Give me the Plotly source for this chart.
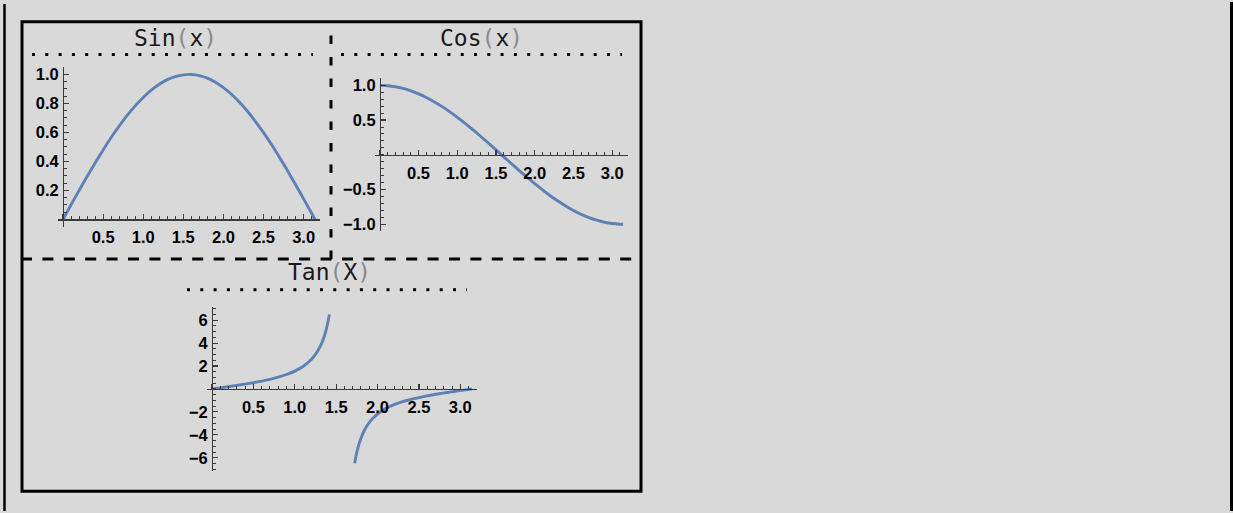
import plotly.graph_objects as go

W, H = 1233, 513
BG = "#d9d9d9"
CURVE = "#5e81b5"

# ---------------- data ----------------
sin_x = [0.0, 0.1, 0.2, 0.3, 0.4, 0.5, 0.6, 0.7, 0.8, 0.9, 1.0, 1.1, 1.2, 1.3, 1.4, 1.5, 1.6,
         1.7, 1.8, 1.9, 2.0, 2.1, 2.2, 2.3, 2.4, 2.5, 2.6, 2.7, 2.8, 2.9, 3.0, 3.1, 3.1416]
sin_y = [0.000, 0.100, 0.199, 0.296, 0.389, 0.479, 0.565, 0.644, 0.717, 0.783, 0.841, 0.891,
         0.932, 0.964, 0.985, 0.997, 1.000, 0.992, 0.974, 0.946, 0.909, 0.863, 0.808, 0.746,
         0.675, 0.598, 0.516, 0.427, 0.335, 0.239, 0.141, 0.042, 0.000]

cos_x = [0.0, 0.1, 0.2, 0.3, 0.4, 0.5, 0.6, 0.7, 0.8, 0.9, 1.0, 1.1, 1.2, 1.3, 1.4, 1.5, 1.6,
         1.7, 1.8, 1.9, 2.0, 2.1, 2.2, 2.3, 2.4, 2.5, 2.6, 2.7, 2.8, 2.9, 3.0, 3.1, 3.1416]
cos_y = [1.000, 0.995, 0.980, 0.955, 0.921, 0.878, 0.825, 0.765, 0.697, 0.622, 0.540, 0.454,
         0.362, 0.267, 0.170, 0.071, -0.029, -0.129, -0.227, -0.323, -0.416, -0.505, -0.589,
         -0.666, -0.737, -0.801, -0.857, -0.904, -0.942, -0.971, -0.990, -0.999, -1.000]

tan_x1 = [0.0, 0.1, 0.2, 0.3, 0.4, 0.5, 0.6, 0.7, 0.8, 0.9, 1.0, 1.1, 1.2, 1.25, 1.3, 1.35,
          1.38, 1.4, 1.418]
tan_y1 = [0.000, 0.100, 0.203, 0.309, 0.423, 0.546, 0.684, 0.842, 1.030, 1.260, 1.557, 1.965,
          2.572, 3.010, 3.602, 4.455, 5.180, 5.798, 6.490]
tan_x2 = [1.7236, 1.7416, 1.7616, 1.7916, 1.8416, 1.8916, 1.9416, 2.0416, 2.1416, 2.2416,
          2.3416, 2.4416, 2.5416, 2.6416, 2.7416, 2.8416, 2.9416, 3.0416, 3.1416]
tan_y2 = [-6.490, -5.798, -5.180, -4.455, -3.602, -3.010, -2.572, -1.965, -1.557, -1.260,
          -1.030, -0.842, -0.684, -0.546, -0.423, -0.309, -0.203, -0.100, 0.000]

x_ticks = [0.5, 1.0, 1.5, 2.0, 2.5, 3.0]
x_ticklabels = ["0.5", "1.0", "1.5", "2.0", "2.5", "3.0"]
sin_yticks = [0.2, 0.4, 0.6, 0.8, 1.0]
sin_yticklabels = ["0.2", "0.4", "0.6", "0.8", "1.0"]
cos_yticks = [-1.0, -0.5, 0.5, 1.0]
cos_yticklabels = ["\u22121.0", "\u22120.5", "0.5", "1.0"]
tan_yticks = [-6, -4, -2, 2, 4, 6]
tan_yticklabels = ["\u22126", "\u22124", "\u22122", "2", "4", "6"]

titles = ["Sin", "Cos", "Tan"]
title_args = ["x", "x", "X"]

# ---------------- layout helpers ----------------
def px_x(p):
    return p / W

def px_y(p):
    return 1 - p / H

TICKFONT = dict(family="Liberation Sans, Arial", size=16.5, color="black", weight="bold")
AXCOL = "#3a3a3a"

# panel pixel boxes (left, right, top, bottom) and padded ranges
panels = [
    dict(box=(58, 320, 65.7, 226.3), xr=[-0.0628, 3.2044], yr=[-0.05, 1.05],
         yt=sin_yticks, ytl=sin_yticklabels, ymin=0.05),
    dict(box=(375, 628, 77, 231), xr=[-0.0628, 3.2044], yr=[-1.1, 1.1],
         yt=cos_yticks, ytl=cos_yticklabels, ymin=0.1),
    dict(box=(206.8, 477.2, 307.4, 472.6), xr=[-0.0628, 3.2044], yr=[-7.15, 7.15],
         yt=tan_yticks, ytl=tan_yticklabels, ymin=0.5),
]

fig = go.Figure()
line_style = dict(color=CURVE, width=2.9, shape="spline", smoothing=0.6)
fig.add_trace(go.Scatter(x=sin_x, y=sin_y, mode="lines", line=line_style,
                         xaxis="x", yaxis="y", showlegend=False, hoverinfo="skip"))
fig.add_trace(go.Scatter(x=cos_x, y=cos_y, mode="lines", line=line_style,
                         xaxis="x2", yaxis="y2", showlegend=False, hoverinfo="skip"))
fig.add_trace(go.Scatter(x=tan_x1, y=tan_y1, mode="lines", line=line_style,
                         xaxis="x3", yaxis="y3", showlegend=False, hoverinfo="skip"))
fig.add_trace(go.Scatter(x=tan_x2, y=tan_y2, mode="lines", line=line_style,
                         xaxis="x3", yaxis="y3", showlegend=False, hoverinfo="skip"))

layout = dict(
    width=W, height=H, margin=dict(l=0, r=0, t=0, b=0),
    paper_bgcolor=BG, plot_bgcolor="rgba(0,0,0,0)", showlegend=False, hovermode=False,
)

for i, p in enumerate(panels):
    l, r, t, b = p["box"]
    xd = [px_x(l), px_x(r)]
    yd = [px_y(b), px_y(t)]
    # axis positions where the other coordinate is zero
    xpos = yd[0] + (0 - p["yr"][0]) / (p["yr"][1] - p["yr"][0]) * (yd[1] - yd[0])
    ypos = xd[0] + (0 - p["xr"][0]) / (p["xr"][1] - p["xr"][0]) * (xd[1] - xd[0])
    sfx = "" if i == 0 else str(i + 1)
    layout["xaxis" + sfx] = dict(
        domain=xd, range=p["xr"], anchor="free", position=xpos, showgrid=False, zeroline=False,
        showline=True, linecolor=AXCOL, linewidth=1.3, ticks="inside", ticklen=5, tickwidth=1.2,
        tickcolor=AXCOL, tickvals=[0] + x_ticks, ticktext=[""] + x_ticklabels, tickfont=TICKFONT,
        ticklabelstandoff=3,
        minor=dict(tickmode="linear", tick0=0, dtick=0.1, ticks="inside", ticklen=3, tickwidth=1,
                   tickcolor=AXCOL, showgrid=False),
        fixedrange=True,
    )
    layout["yaxis" + sfx] = dict(
        domain=yd, range=p["yr"], anchor="free", position=ypos, showgrid=False, zeroline=False,
        showline=True, linecolor=AXCOL, linewidth=1.3, ticks="inside", ticklen=5, tickwidth=1.2,
        tickcolor=AXCOL, tickvals=p["yt"], ticktext=p["ytl"], tickfont=TICKFONT,
        ticklabelstandoff=1,
        minor=dict(tickmode="linear", tick0=0, dtick=p["ymin"], ticks="inside", ticklen=3, tickwidth=1,
                   tickcolor=AXCOL, showgrid=False),
        fixedrange=True,
    )

fig.update_layout(**layout)

# ---------------- decorations ----------------
shapes = []
def pline(x0, y0, x1, y1, width, dash="solid", color="black"):
    shapes.append(dict(type="line", xref="paper", yref="paper",
                       x0=px_x(x0), y0=px_y(y0), x1=px_x(x1), y1=px_y(y1),
                       line=dict(color=color, width=width, dash=dash)))

# page borders
pline(4.5, 2, 4.5, 513, 2.5)
pline(1231.5, 0, 1231.5, 513, 3)
# grid frame
shapes.append(dict(type="rect", xref="paper", yref="paper",
                   x0=px_x(22), y0=px_y(493), x1=px_x(641), y1=px_y(20),
                   line=dict(color="black", width=3)))
# dashed dividers
pline(21, 259, 641, 259, 3, dash="11px,10.4px")
pline(331, 259, 331, 20, 3, dash="8.5px,13px")
# dotted rules under titles
pline(32, 53, 313, 53, 3, dash="3px,10.3px")
pline(341, 53, 622, 53, 3, dash="3px,10.3px")
pline(187, 290, 467, 290, 3, dash="3px,10.3px")

fig.update_layout(shapes=shapes)

# titles
title_pos = [(175, 36), (481, 36), (329, 272)]
annotations = []
for name, arg, (cx, cy) in zip(titles, title_args, title_pos):
    txt = (name + "<span style='color:#8a8a8a'>(</span>" + arg +
           "<span style='color:#8a8a8a'>)</span>")
    annotations.append(dict(xref="paper", yref="paper", x=px_x(cx), y=px_y(cy),
                            xanchor="center", yanchor="middle", showarrow=False, text=txt,
                            font=dict(family="DejaVu Sans Mono", size=23, color="#1a1a1a")))
fig.update_layout(annotations=annotations)

fig.write_html(
    "out.html",
    config={"displayModeBar": False, "staticPlot": True},
    post_script="document.body.style.margin='0';document.body.style.overflow='hidden';"
                "document.body.style.background='#d9d9d9';",
)
